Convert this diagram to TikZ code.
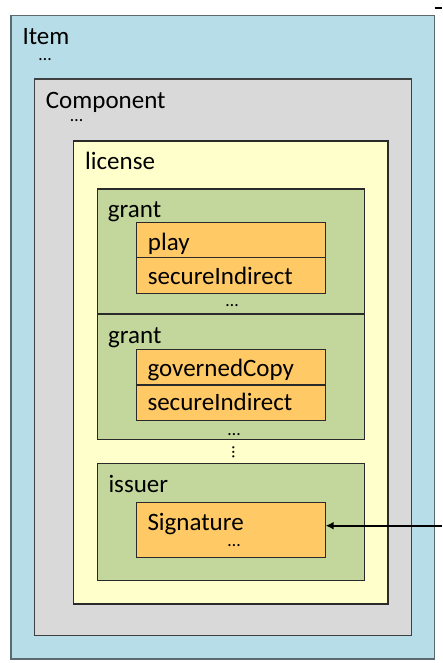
\documentclass[tikz,border=0pt]{standalone}
\usepackage{fontspec}
\setmainfont{Carlito}
\usetikzlibrary{arrows.meta}

\definecolor{itemblue}{HTML}{B7DEE8}
\definecolor{compgray}{HTML}{D9D9D9}
\definecolor{licyellow}{HTML}{FFFFCC}
\definecolor{grantgreen}{HTML}{C3D69B}
\definecolor{rightorange}{HTML}{FFC966}
\definecolor{itemedge}{HTML}{5A6A70}
\definecolor{compedge}{HTML}{404040}
\definecolor{inneredge}{HTML}{2A2A2A}

\tikzset{
  box/.style={rectangle, inner sep=0pt, outer sep=0pt, line width=1.2pt},
  label/.style={inner sep=0pt, anchor=base west, font=\fontsize{25}{30}\selectfont},
  more/.style={inner sep=0pt, anchor=center, font=\fontsize{18}{20}\selectfont},
  link/.style={line width=2pt, black},
}

\begin{document}
\begin{tikzpicture}[x=1pt, y=-1pt]
\useasboundingbox (0,0) rectangle (442,663);

% nested containers
\node[box, draw=itemedge, fill=itemblue, minimum width=423.7pt, minimum height=643.3pt] (item) at (222.85,337.35) {};
\node[box, draw=compedge, fill=compgray, minimum width=376.8pt, minimum height=556.7pt] (comp) at (223.1,357.35) {};
\node[box, draw=inneredge, fill=licyellow, minimum width=314.3pt, minimum height=463pt] (lic) at (230.85,372.5) {};

% grants and issuer
\node[box, draw=inneredge, fill=grantgreen, minimum width=267pt, minimum height=125pt] (grantA) at (231,251.5) {};
\node[box, draw=inneredge, fill=grantgreen, minimum width=267pt, minimum height=125.5pt] (grantB) at (231,376.75) {};
\node[box, draw=inneredge, fill=grantgreen, minimum width=267pt, minimum height=117.4pt] (issuer) at (231,522) {};

% rights and signature
\node[box, draw=inneredge, fill=rightorange, minimum width=189pt, minimum height=35.4pt] (play) at (231.2,240) {};
\node[box, draw=inneredge, fill=rightorange, minimum width=189pt, minimum height=35.6pt] (secA) at (231.2,275.5) {};
\node[box, draw=inneredge, fill=rightorange, minimum width=189pt, minimum height=35.7pt] (gov) at (231.2,367.15) {};
\node[box, draw=inneredge, fill=rightorange, minimum width=189pt, minimum height=35.3pt] (secB) at (231.2,402.65) {};
\node[box, draw=inneredge, fill=rightorange, minimum width=189pt, minimum height=55pt] (sig) at (231.2,529.8) {};

% labels
\node[label] (tItem) at (22.3,45) {Item};
\node[more] (dItem) at (45,60) {…};
\node[label] (tComp) at (45.7,108.3) {Component};
\node[more] (dComp) at (76.5,120.5) {…};
\node[label] (tLic) at (85,170) {license};
\node[label] (tGrantA) at (107.7,217) {grant};
\node[label] (tPlay) at (147.7,250) {play};
\node[label] (tSecA) at (147.7,284.3) {secureIndirect};
\node[more] (dGrantA) at (232,306) {…};
\node[label] (tGrantB) at (108,343.3) {grant};
\node[label] (tGov) at (147.3,376.7) {governedCopy};
\node[label] (tSecB) at (147.3,410) {secureIndirect};
\node[more] (dGrantB) at (234,435) {…};
\node[more, rotate=90] (dVert) at (233.3,452.5) {…};
\node[label] (tIssuer) at (108.3,492.3) {issuer};
\node[label] (tSig) at (147.3,530.7) {Signature};
\node[more] (dSig) at (234,546) {…};

% incoming reference to the signature
\coordinate (src) at (442,525.7);
\draw[link, -{Latex[length=8pt, width=8pt]}] (src) -- (sig.east |- src);

% stub at the top right
\coordinate (stubA) at (434.5,8.3);
\coordinate (stubB) at (442,8.3);
\draw[link] (stubA) -- (stubB);
\end{tikzpicture}
\end{document}
